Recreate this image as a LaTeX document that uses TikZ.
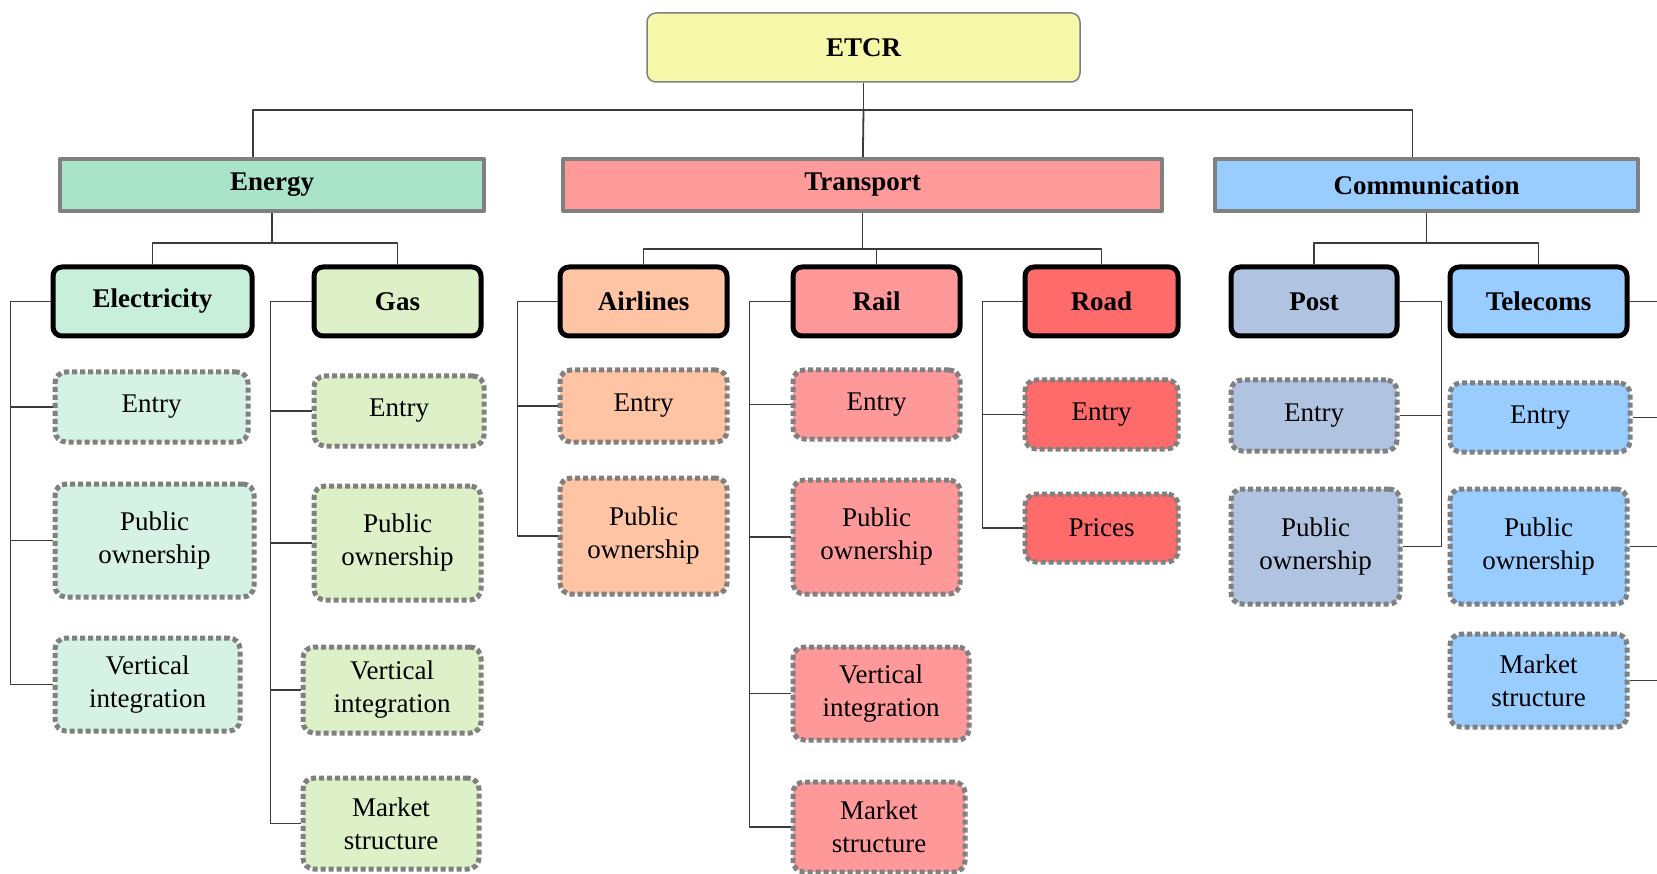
\documentclass[tikz,border=0pt]{standalone}
\usepackage{fontspec}
\setmainfont{Liberation Serif}
\definecolor{etcrfill}{HTML}{F7F7AA}
\definecolor{energyfill}{HTML}{A9E3C9}
\definecolor{transfill}{HTML}{FF9A9A}
\definecolor{commfill}{HTML}{99CCFF}
\definecolor{elecfill}{HTML}{C8EEDC}
\definecolor{elecleaf}{HTML}{D6F2E6}
\definecolor{gasfill}{HTML}{DDF0C8}
\definecolor{airfill}{HTML}{FFC4A4}
\definecolor{railfill}{HTML}{FF9999}
\definecolor{roadfill}{HTML}{FF6B6B}
\definecolor{postfill}{HTML}{B0C4E2}
\definecolor{telefill}{HTML}{99CCFF}
\definecolor{boxgray}{HTML}{808080}
\definecolor{linkgray}{HTML}{3C3C3C}
\newcommand\chartfont{\fontsize{27}{33}\selectfont}
\tikzset{
	etcrbox/.style={draw=boxgray, line width=1.5pt, rounded corners=9pt, fill=etcrfill, inner sep=0pt, font=\chartfont\bfseries},
	sectorbox/.style={draw=boxgray, line width=4pt, inner sep=0pt, minimum height=52, font=\chartfont\bfseries},
	industrybox/.style={draw=black, line width=5pt, rounded corners=9pt, inner sep=0pt, minimum height=69, font=\chartfont\bfseries},
	leafbox/.style={draw=boxgray, line width=5pt, dash pattern=on 5pt off 3pt, rounded corners=11pt, inner sep=0pt, align=center, font=\chartfont},
	link/.style={draw=linkgray, line width=1.8pt}
}
\begin{document}
\begin{tikzpicture}[x=1pt,y=-1pt, line join=round]
	\useasboundingbox (0,0) rectangle (1657,874);
	\clip (0,0) rectangle (1657,874);
	\node[etcrbox, minimum width=433, minimum height=69] (etcr) at (863.5,47.5) {ETCR};
	\node[sectorbox, fill=energyfill, minimum width=424] (energy) at (272,185) {Energy};
	\node[sectorbox, fill=transfill, minimum width=599] (transport) at (862.5,185) {Transport};
	\node[sectorbox, fill=commfill, minimum width=423] (comm) at (1426.5,185) {Communication};
	\coordinate (bus) at (863.5,110);
	\draw[link] (etcr) -- (bus);
	\draw[link] ([xshift=-19pt]energy.north) |- (bus);
	\draw[link] (transport) -- (bus);
	\draw[link] ([xshift=-14pt]comm.north) |- (bus);
	\node[industrybox, fill=elecfill, minimum width=199] (elec) at (152.5,301.5) {Electricity};
	\node[industrybox, fill=gasfill, minimum width=167] (gas) at (397.5,301.5) {Gas};
	\node[industrybox, fill=airfill, minimum width=167] (airl) at (643.5,301.5) {Airlines};
	\node[industrybox, fill=railfill, minimum width=167] (rail) at (876.5,301.5) {Rail};
	\node[industrybox, fill=roadfill, minimum width=153] (road) at (1101.5,301.5) {Road};
	\node[industrybox, fill=postfill, minimum width=166] (post) at (1314,301.5) {Post};
	\node[industrybox, fill=telefill, minimum width=177] (tele) at (1538.5,301.5) {Telecoms};
	\foreach \n in {elec,gas}
		\draw[link] (energy.south) -- ++(0,30) -| (\n.north);
	\foreach \n in {airl,rail,road}
		\draw[link] (transport.south) -- ++(0,36) -| (\n.north);
	\foreach \n in {post,tele}
		\draw[link] (comm.south) -- ++(0,30) -| (\n.north);
	\foreach \n/\x/\y/\w/\h/\t in {e1/151.5/407/193/70/Entry, e2/154.5/540.5/199/113/{Public\\ownership}, e3/147.5/684.5/185/93/{Vertical\\integration}}
		\node[leafbox, fill=elecleaf, minimum width=\w, minimum height=\h] (\n) at (\x,\y) {\t};
	\foreach \n/\x/\y/\w/\h/\t in {g1/399/411/170/70/Entry, g2/397.5/543/167/114/{Public\\ownership}, g3/392/690/178/86/{Vertical\\integration}, g4/391/823.5/176/91/{Market\\structure}}
		\node[leafbox, fill=gasfill, minimum width=\w, minimum height=\h] (\n) at (\x,\y) {\t};
	\foreach \n/\x/\y/\w/\h/\t in {a1/643.5/406/167/72/Entry, a2/643.5/536/167/116/{Public\\ownership}}
		\node[leafbox, fill=airfill, minimum width=\w, minimum height=\h] (\n) at (\x,\y) {\t};
	\foreach \n/\x/\y/\w/\h/\t in {r1/876.5/404.5/167/69/Entry, r2/876.5/537/167/114/{Public\\ownership}, r3/881/693.5/176/93/{Vertical\\integration}, r4/879/827/172/90/{Market\\structure}}
		\node[leafbox, fill=railfill, minimum width=\w, minimum height=\h] (\n) at (\x,\y) {\t};
	\foreach \n/\x/\y/\w/\h/\t in {d1/1101.5/414.5/153/69/Entry, d2/1101.5/528/153/68/Prices}
		\node[leafbox, fill=roadfill, minimum width=\w, minimum height=\h] (\n) at (\x,\y) {\t};
	\foreach \n/\x/\y/\w/\h/\t in {p1/1314/415.5/166/71/Entry, p2/1315.5/546.5/169/115/{Public\\ownership}}
		\node[leafbox, fill=postfill, minimum width=\w, minimum height=\h] (\n) at (\x,\y) {\t};
	\foreach \n/\x/\y/\w/\h/\t in {t1/1540/417.5/180/69/Entry, t2/1538.5/546.5/177/115/{Public\\ownership}, t3/1538.5/680.5/177/93/{Market\\structure}}
		\node[leafbox, fill=telefill, minimum width=\w, minimum height=\h] (\n) at (\x,\y) {\t};
	\foreach \n in {e1,e2,e3}
		\draw[link] (elec.west) -- ++(-40,0) |- (\n.west);
	\foreach \n in {g1,g2,g3,g4}
		\draw[link] (gas.west) -- ++(-41,0) |- (\n.west);
	\foreach \n in {a1,a2}
		\draw[link] (airl.west) -- ++(-40,0) |- (\n.west);
	\foreach \n in {r1,r2,r3,r4}
		\draw[link] (rail.west) -- ++(-41,0) |- (\n.west);
	\foreach \n in {d1,d2}
		\draw[link] (road.west) -- ++(-40,0) |- (\n.west);
	\foreach \n in {p1,p2}
		\draw[link] (post.east) -- ++(42,0) |- (\n.east);
	\foreach \n in {t1,t2,t3}
		\draw[link] (tele.east) -- ++(50,0) |- (\n.east);
\end{tikzpicture}
\end{document}
